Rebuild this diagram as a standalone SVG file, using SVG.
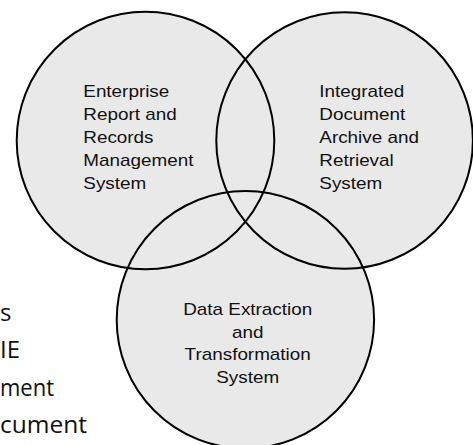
<svg xmlns="http://www.w3.org/2000/svg" width="473" height="445" viewBox="0 0 473 445">
  <style>
    .disc { fill: #e9e9e9; stroke: none; }
    .ring { fill: none; stroke: #000; stroke-width: 2; }
    .label { font-family: "Liberation Sans", Arial, sans-serif; font-size: 16px; fill: #111; }
    .side { font-family: "Open Sans", "Noto Sans", sans-serif; font-size: 24px; fill: #111; }
  </style>

  <!-- shared fills, painted first so every outline stays visible -->
  <g id="fills">
    <circle class="disc" cx="145.5" cy="140.5" r="128.8"/>
    <circle class="disc" cx="344.6" cy="140.5" r="128.3"/>
    <circle class="disc" cx="245.4" cy="319.7" r="128.7"/>
  </g>

  <!-- side text along the left edge -->
  <g id="side-text" class="side">
    <text x="0" y="320.5">s</text>
    <text x="0" y="357.5">IE</text>
    <text x="0" y="396" textLength="54" lengthAdjust="spacingAndGlyphs">ment</text>
    <text x="0" y="433.3" textLength="87" lengthAdjust="spacingAndGlyphs">cument</text>
  </g>

  <g id="erms">
    <circle class="ring" cx="145.5" cy="140.5" r="128.8"/>
    <g class="label" transform="translate(83.3,0) scale(1.18,1)">
      <text x="0" y="97.5">Enterprise</text>
      <text x="0" y="120.3">Report and</text>
      <text x="0" y="143.1">Records</text>
      <text x="0" y="165.9">Management</text>
      <text x="0" y="188.7">System</text>
    </g>
  </g>

  <g id="idars">
    <circle class="ring" cx="344.6" cy="140.5" r="128.3"/>
    <g class="label" transform="translate(319.3,0) scale(1.18,1)">
      <text x="0" y="97.5">Integrated</text>
      <text x="0" y="120.3">Document</text>
      <text x="0" y="143.1">Archive and</text>
      <text x="0" y="165.9">Retrieval</text>
      <text x="0" y="188.7">System</text>
    </g>
  </g>

  <g id="dets">
    <circle class="ring" cx="245.4" cy="319.7" r="128.7"/>
    <g class="label" text-anchor="middle" transform="translate(247.7,0) scale(1.18,1)">
      <text x="0" y="315">Data Extraction</text>
      <text x="0" y="337.6">and</text>
      <text x="0" y="360.2">Transformation</text>
      <text x="0" y="382.8">System</text>
    </g>
  </g>
</svg>
